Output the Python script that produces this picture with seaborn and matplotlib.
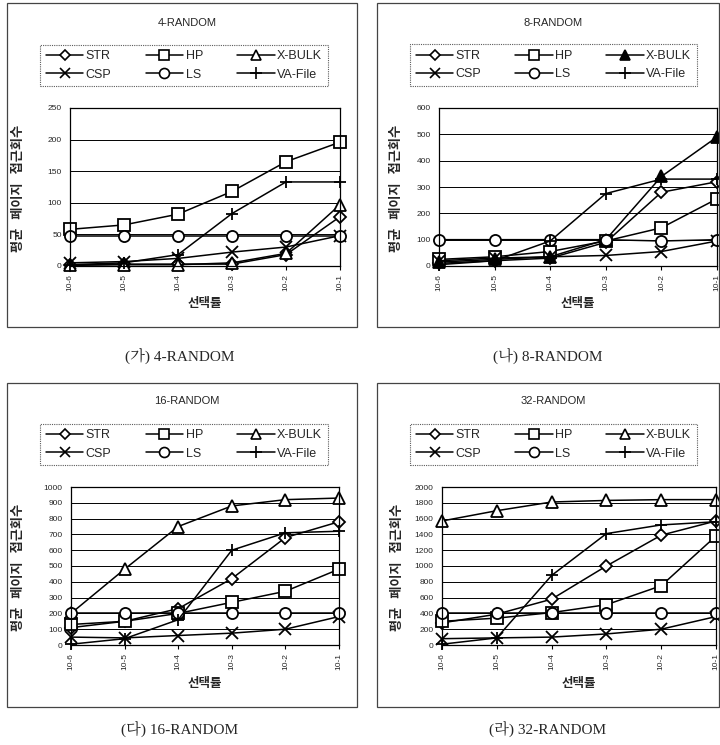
import matplotlib
matplotlib.use("Agg")
import matplotlib.pyplot as plt
from matplotlib.patches import Rectangle
from matplotlib.lines import Line2D
import seaborn as sns

sns.set_style("white")
plt.rcParams['font.family'] = ['Liberation Sans', 'Noto Sans CJK KR', 'DejaVu Sans']

# ---------------- data ----------------
selectivity = ["10-6", "10-5", "10-4", "10-3", "10-2", "10-1"]
methods = ["STR", "HP", "X-BULK", "CSP", "LS", "VA-File"]

panel_titles = ["4-RANDOM", "8-RANDOM", "16-RANDOM", "32-RANDOM"]
captions = ["(가) 4-RANDOM", "(나) 8-RANDOM", "(다) 16-RANDOM", "(라) 32-RANDOM"]
y_max = [250, 600, 1000, 2000]
y_step = [50, 100, 100, 200]

str_4 = [2, 3, 3, 3, 18, 78]
hp_4 = [58, 65, 82, 118, 165, 196]
xbulk_4 = [1, 2, 2, 5, 20, 97]
csp_4 = [5, 7, 12, 22, 30, 48]
ls_4 = [48, 48, 48, 48, 48, 48]
va_4 = [2, 5, 18, 83, 133, 133]

str_8 = [10, 20, 30, 90, 280, 320]
hp_8 = [25, 35, 55, 95, 145, 255]
xbulk_8 = [15, 25, 35, 100, 340, 490]
csp_8 = [20, 30, 35, 40, 55, 95]
ls_8 = [100, 100, 100, 100, 95, 100]
va_8 = [5, 20, 95, 275, 330, 330]

str_16 = [110, 150, 230, 420, 680, 780]
hp_16 = [130, 150, 200, 270, 340, 480]
xbulk_16 = [200, 480, 750, 880, 920, 930]
csp_16 = [50, 45, 60, 75, 100, 180]
ls_16 = [200, 200, 200, 200, 200, 200]
va_16 = [5, 40, 160, 600, 710, 720]

str_32 = [280, 390, 580, 1000, 1390, 1570]
hp_32 = [300, 340, 410, 510, 750, 1380]
xbulk_32 = [1570, 1700, 1810, 1830, 1840, 1840]
csp_32 = [80, 90, 100, 140, 200, 360]
ls_32 = [400, 400, 400, 400, 400, 400]
va_32 = [10, 90, 880, 1410, 1520, 1560]

panel_data = [
    [str_4, hp_4, xbulk_4, csp_4, ls_4, va_4],
    [str_8, hp_8, xbulk_8, csp_8, ls_8, va_8],
    [str_16, hp_16, xbulk_16, csp_16, ls_16, va_16],
    [str_32, hp_32, xbulk_32, csp_32, ls_32, va_32],
]

# ---------------- styles ----------------
marker_of = {"STR": "D", "HP": "s", "X-BULK": "^", "CSP": "x", "LS": "o", "VA-File": "+"}
msize_of = {"STR": 6, "HP": 8, "X-BULK": 8, "CSP": 8, "LS": 8, "VA-File": 9}

W, H = 720, 745
fig = plt.figure(figsize=(W / 100, H / 100), dpi=100)


def fx(px):
    return px / W


def fy(py):
    return 1 - py / H


# pixel layout per panel
frames = [(7, 3, 357, 327), (377, 3, 719, 327), (7, 383, 357, 707), (377, 383, 719, 707)]
axes_px = [(70, 108, 340, 266), (439, 108, 717, 266), (71, 487, 339, 645), (442, 487, 716, 645)]
title_px = [(187, 23), (553, 23), (187, 401), (553, 401)]
legend_px = [(34, 44, 334, 87), (404, 43, 703, 87), (34, 422, 334, 467), (404, 422, 703, 467)]
ylabel_right_px = [25, 403, 25, 404]
xlabel_py = [304, 304, 683, 683]
caption_px = [(180, 356), (548, 356), (180, 729), (548, 729)]

for i in range(4):
    # frame
    x0, y0, x1, y1 = frames[i]
    fig.add_artist(Rectangle((fx(x0), fy(y1)), fx(x1) - fx(x0), fy(y0) - fy(y1),
                             transform=fig.transFigure, fill=False, ec="#444444", lw=0.9))
    # axes
    l, t, r, b = axes_px[i]
    ax = fig.add_axes([fx(l), fy(b), fx(r) - fx(l), fy(t) - fy(b)])
    filled_tri = (i == 1)
    for name, vals in zip(methods, panel_data[i]):
        mfc = "white"
        if name in ("CSP", "VA-File"):
            mfc = "black"
        if name == "X-BULK" and filled_tri:
            mfc = "black"
        sns.lineplot(x=selectivity, y=vals, ax=ax, sort=False, color="black",
                     linewidth=1.1, marker=marker_of[name], markersize=msize_of[name],
                     markerfacecolor=mfc, markeredgecolor="black",
                     markeredgewidth=1.3, clip_on=False, label=name, legend=False)
    ax.set_xlim(0, len(selectivity) - 1)
    ax.set_ylim(0, y_max[i])
    ax.set_yticks(range(0, y_max[i] + 1, y_step[i]))
    ax.yaxis.grid(True, color="black", lw=0.7)
    ax.xaxis.grid(False)
    for sp in ax.spines.values():
        sp.set_color("black")
        sp.set_linewidth(0.9)
    ax.tick_params(axis="x", labelrotation=90, labelsize=6, length=3, pad=3,
                   bottom=True, direction="out", color="black")
    ax.tick_params(axis="y", labelsize=6, length=0, pad=6)
    ax.set_xlabel("선택률", fontsize=9, fontweight="bold", family=['Noto Sans CJK KR'],
                  va="center")
    ax.xaxis.set_label_coords(0.5, (b - xlabel_py[i]) / (b - t))
    ax.set_ylabel("평균   페이지   접근회수", fontsize=9.5, fontweight="bold",
                  family=['Noto Sans CJK KR'])
    ax.yaxis.set_label_coords((ylabel_right_px[i] - l) / (r - l), 0.49)
    ax.set_facecolor("white")

    # title
    tx, ty = title_px[i]
    fig.text(fx(tx), fy(ty), panel_titles[i], ha="center", va="center", fontsize=8)

    # legend (row-wise order for 3 columns)
    handles = {}
    for line, name in zip(ax.get_lines(), methods):
        handles[name] = Line2D([], [], color="black", lw=1.1, marker=line.get_marker(),
                               markersize=line.get_markersize() * 0.9,
                               markerfacecolor=line.get_markerfacecolor(),
                               markeredgecolor="black", markeredgewidth=1.2)
    order = ["STR", "CSP", "HP", "LS", "X-BULK", "VA-File"]
    lx0, ly0, lx1, ly1 = legend_px[i]
    leg = ax.legend([handles[n] for n in order], order, ncol=3, mode="expand",
                    loc="center", bbox_to_anchor=(fx(lx0), fy(ly1), fx(lx1) - fx(lx0), fy(ly0) - fy(ly1)),
                    bbox_transform=fig.transFigure, fontsize=9, handlelength=3.0,
                    handletextpad=0.2, columnspacing=0.6, borderpad=0.45, labelspacing=0.5,
                    fancybox=False, frameon=True)
    fr = leg.get_frame()
    fr.set_edgecolor("#333333")
    fr.set_linewidth(0.8)
    fr.set_linestyle((0, (1, 1)))

    # caption
    cx, cy = caption_px[i]
    fig.text(fx(cx), fy(cy), captions[i], ha="center", va="center", fontsize=11,
             family=['Liberation Serif', 'Noto Serif CJK KR', 'Noto Sans CJK KR'])

fig.savefig("out.png", dpi=100, facecolor="white")
